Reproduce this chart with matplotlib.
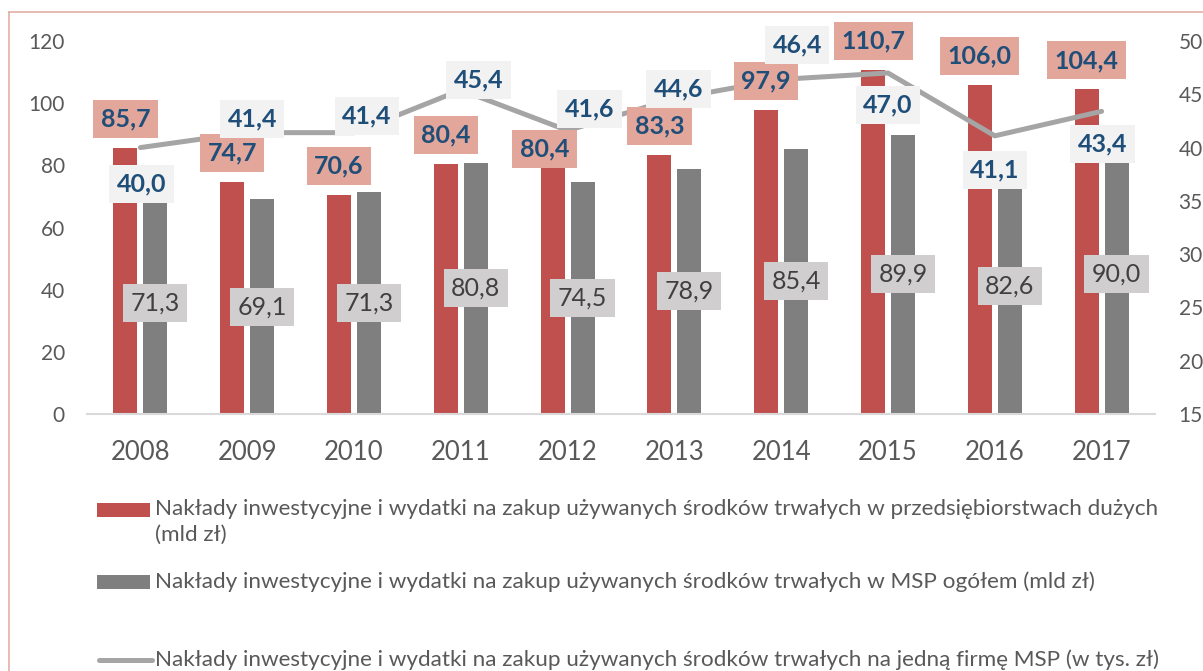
import matplotlib
matplotlib.use("Agg")
from matplotlib import pyplot as plt
from matplotlib.patches import Rectangle
from matplotlib.lines import Line2D

plt.rcParams['font.family'] = ['Lato', 'DejaVu Sans']

# data
years = ['2008', '2009', '2010', '2011', '2012', '2013', '2014', '2015', '2016', '2017']
large_firms = [85.7, 74.7, 70.6, 80.4, 80.4, 83.3, 97.9, 110.7, 106.0, 104.4]
sme_total = [71.3, 69.1, 71.3, 80.8, 74.5, 78.9, 85.4, 89.9, 82.6, 90.0]
per_sme = [40.0, 41.4, 41.4, 45.4, 41.6, 44.6, 46.4, 47.0, 41.1, 43.4]

legend_labels = [
    'Nakłady inwestycyjne i wydatki na zakup używanych środków trwałych w przedsiębiorstwach dużych\n(mld zł)',
    'Nakłady inwestycyjne i wydatki na zakup używanych środków trwałych w MSP ogółem (mld zł)',
    'Nakłady inwestycyjne i wydatki na zakup używanych środków trwałych na jedną firmę MSP (w tys. zł)',
]

# label offsets (in pixels) for the line labels, as placed in the original
line_lbl_off = [(1, -36), (5, 14), (13, 17), (18, 10), (22, 22),
                (4, 10), (16, 34), (0, -32), (0, -34), (1, -33)]

RED = '#C0504D'
GRAY = '#7F7F7F'
LINE = '#A5A5A5'
BLUE = '#1F4E79'
TXT = '#595959'
PX = 0.72  # points per pixel at dpi 100


def fmt(v):
    return f'{v:.1f}'.replace('.', ',')


W, H = 1203, 671
fig = plt.figure(figsize=(W / 100, H / 100), dpi=100)
ax = fig.add_axes([87 / W, 1 - 414 / H, (1155 - 87) / W, (414 - 41) / H])
ax2 = ax.twinx()

x = list(range(len(years)))
xr = [i - 0.14 for i in x]
xg = [i + 0.14 for i in x]
ax.bar(xr, large_firms, width=0.225, color=RED, zorder=2)
ax.bar(xg, sme_total, width=0.225, color=GRAY, zorder=2)
ax2.plot(x, per_sme, color=LINE, lw=5 * PX, solid_capstyle='round', zorder=2)

ax.set_xlim(-0.5, 9.5)
ax.set_ylim(0, 120)
ax.set_yticks(range(0, 121, 20))
ax2.set_ylim(15, 50)
ax2.set_yticks(range(15, 51, 5))
ax.set_xticks(x)
ax.set_xticklabels(years)

for a in (ax, ax2):
    for s in ('top', 'left', 'right', 'bottom'):
        a.spines[s].set_visible(False)
ax.spines['bottom'].set_visible(True)
ax.spines['bottom'].set_color('#D9D9D9')
ax.spines['bottom'].set_linewidth(1.5)

ax.tick_params(axis='y', length=0, pad=16, labelsize=15, labelcolor=TXT)
ax2.tick_params(axis='y', length=0, pad=17, labelsize=15, labelcolor=TXT)
ax.tick_params(axis='x', length=0, pad=19, labelsize=18.5, labelcolor=TXT)

# red bar labels
for i, v in enumerate(large_firms):
    dx, dy = (0, 29) if i != 4 else (-8, 15.5)
    ax2.annotate(fmt(v), xy=(xr[i], v), xycoords=ax.transData,
                 xytext=(dx * PX, dy * PX), textcoords='offset points',
                 ha='center', va='center', fontsize=18, fontweight='bold', color=BLUE,
                 bbox=dict(boxstyle='square,pad=0.3', fc='#E2A69A', ec='none'), zorder=5)

# gray bar labels
for i, v in enumerate(sme_total):
    ax2.annotate(fmt(v), xy=(xg[i], v / 2), xycoords=ax.transData,
                 ha='center', va='center', fontsize=18, color='#404040',
                 bbox=dict(boxstyle='square,pad=0.3', fc='#D0CECE', ec='none'), zorder=5)

# line labels
for i, v in enumerate(per_sme):
    dx, dy = line_lbl_off[i]
    ax2.annotate(fmt(v), xy=(x[i], v), xytext=(dx * PX, dy * PX), textcoords='offset points',
                 ha='center', va='center', fontsize=18, fontweight='bold', color=BLUE,
                 bbox=dict(boxstyle='square,pad=0.3', fc='#F2F2F2', ec='none'), zorder=6)

# chart frame
fig.add_artist(Line2D([9 / W, 9 / W], [0, 1 - 12 / H], color='#E3AFA6', lw=1.2))
fig.add_artist(Line2D([9 / W, 1], [1 - 12 / H, 1 - 12 / H], color='#E3AFA6', lw=1.2))

# legend
rows_y = [510, 582, 660]
fig.add_artist(Rectangle((97 / W, 1 - 517 / H), 53 / W, 14 / H, transform=fig.transFigure,
                         fc=RED, ec='none'))
fig.add_artist(Rectangle((97 / W, 1 - 589 / H), 53 / W, 14 / H, transform=fig.transFigure,
                         fc=GRAY, ec='none'))
fig.add_artist(Line2D([99 / W, 152 / W], [1 - 660 / H, 1 - 660 / H], color=LINE,
                      lw=5 * PX, solid_capstyle='round'))
for lbl, yy in zip(legend_labels, rows_y):
    fig.text(155 / W, 1 - (yy - 11) / H, lbl, ha='left', va='top', fontsize=16.2,
             color=TXT, linespacing=1.35)

fig.savefig('out.png', dpi=100)
